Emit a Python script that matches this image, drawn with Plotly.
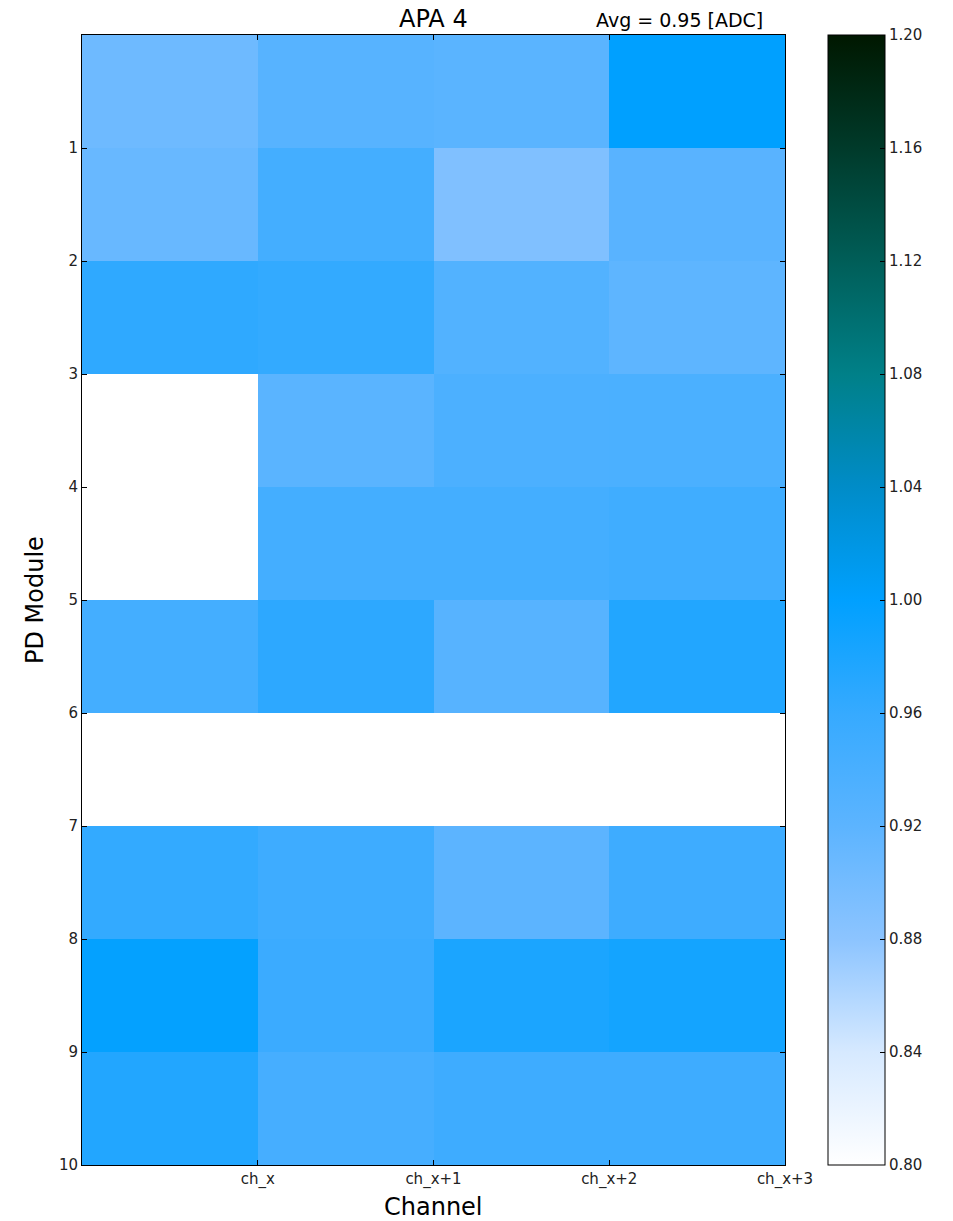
import plotly.graph_objects as go

channels = ["ch_x", "ch_x+1", "ch_x+2", "ch_x+3"]
modules = [1, 2, 3, 4, 5, 6, 7, 8, 9, 10]
# rows: module rows from top (0-1) to bottom (9-10); None = no data
ch_x   = [0.905, 0.910, 0.965, None, None, 0.945, None, 0.962, 0.997, 0.975]
ch_x1  = [0.925, 0.945, 0.962, 0.922, 0.945, 0.967, None, 0.952, 0.955, 0.943]
ch_x2  = [0.922, 0.890, 0.930, 0.937, 0.945, 0.925, None, 0.920, 0.980, 0.952]
ch_x3  = [1.000, 0.923, 0.918, 0.938, 0.950, 0.975, None, 0.952, 0.985, 0.952]
series = [ch_x, ch_x1, ch_x2, ch_x3]
cb_ticks = [0.80, 0.84, 0.88, 0.92, 0.96, 1.00, 1.04, 1.08, 1.12, 1.16, 1.20]

z = [[series[c][r] for c in range(len(series))] for r in range(len(modules))]
xc = [i - 0.5 for i in range(len(channels))]
yc = [r + 0.5 for r in range(len(modules))]

colorscale = [
    [0.0, "#ffffff"], [0.1, "#d6e9ff"], [0.2, "#8cc4ff"], [0.3, "#5cb4ff"],
    [0.4, "#36aaff"], [0.5, "#00a0ff"], [0.6, "#008cc8"], [0.7, "#008088"],
    [0.8, "#005e58"], [0.9, "#003a2a"], [1.0, "#001800"],
]

font_family = "DejaVu Sans"
fig = go.Figure(go.Heatmap(
    x=xc, y=yc, z=z, zmin=0.80, zmax=1.20, colorscale=colorscale,
    xgap=0, ygap=0, hoverongaps=False,
    colorbar=dict(
        x=(828 - 82) / 703, xanchor="left", y=1, yanchor="top",
        lenmode="pixels", len=1130, thicknessmode="pixels", thickness=57,
        outlinecolor="black", outlinewidth=1, tickvals=cb_ticks,
        tickformat=".2f", ticks="inside", ticklen=5, tickcolor="black",
        tickfont=dict(family=font_family, size=15, color="#222"), xpad=0, ypad=0,
    ),
))

fig.update_layout(
    width=953, height=1221,
    margin=dict(l=82, r=168, t=35, b=56),
    paper_bgcolor="white", plot_bgcolor="white",
    font=dict(family=font_family, color="#222"),
    xaxis=dict(range=[-1, 3], tickvals=[0, 1, 2, 3], ticktext=channels,
               ticks="inside", ticklen=5, tickcolor="black", showgrid=False,
               zeroline=False, showline=True, linecolor="black", linewidth=1,
               mirror="ticks", tickfont=dict(size=15), automargin=False),
    yaxis=dict(range=[10, 0], tickvals=modules, ticks="inside", ticklen=5,
               tickcolor="black", showgrid=False, zeroline=False,
               showline=True, linecolor="black", linewidth=1, mirror="ticks",
               tickfont=dict(size=15), automargin=False),
    annotations=[
        dict(text="APA 4", x=0.5, y=1, xref="paper", yref="paper",
             xanchor="center", yanchor="bottom", yshift=0, showarrow=False,
             font=dict(size=24, color="black")),
        dict(text="Avg = 0.95 [ADC]", x=(765 - 82) / 703, y=1, xref="paper",
             yref="paper", xanchor="right", yanchor="bottom", yshift=2,
             showarrow=False, font=dict(size=19, color="black")),
        dict(text="Channel", x=(433 - 82) / 703, y=-(1207 - 1165) / 1130,
             xref="paper", yref="paper", xanchor="center", yanchor="middle",
             showarrow=False, font=dict(size=24, color="black")),
        dict(text="PD Module", x=(35 - 82) / 703, y=0.5, textangle=-90,
             xref="paper", yref="paper", xanchor="center", yanchor="middle",
             showarrow=False, font=dict(size=24, color="black")),
    ],
)

fig.write_html("out.html")
